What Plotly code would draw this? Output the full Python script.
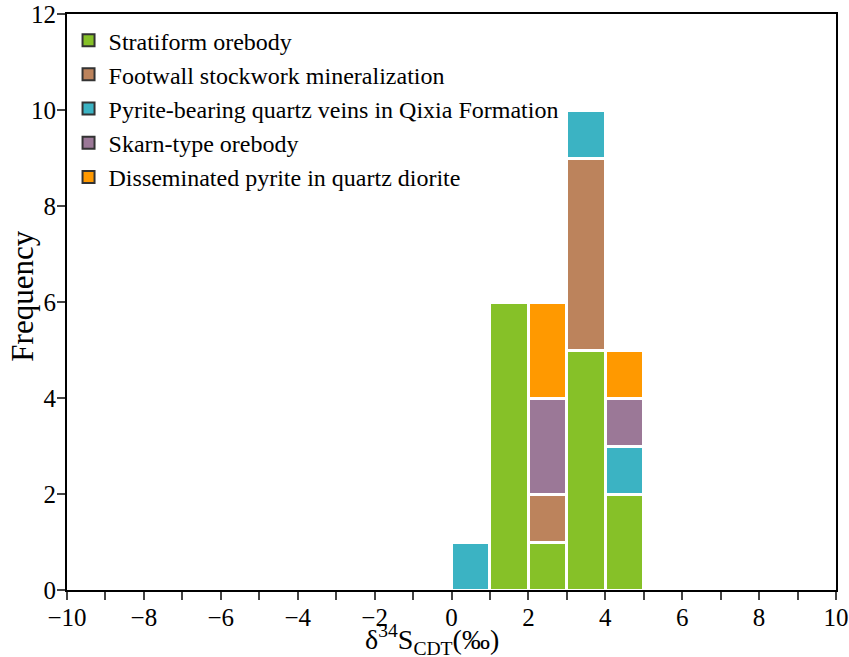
import plotly.graph_objects as go

bins = [0.5, 1.5, 2.5, 3.5, 4.5]
series_names = [
    "Stratiform orebody",
    "Footwall stockwork mineralization",
    "Pyrite-bearing quartz veins in Qixia Formation",
    "Skarn-type orebody",
    "Disseminated pyrite in quartz diorite",
]
stratiform = [0, 6, 1, 5, 2]
footwall = [0, 0, 1, 4, 0]
pyrite_veins = [1, 0, 0, 1, 1]
skarn = [0, 0, 2, 0, 1]
disseminated = [0, 0, 2, 0, 1]
colors = ["#86C128", "#BC835C", "#3BB3C3", "#9B7897", "#FF9900"]

values = [stratiform, footwall, pyrite_veins, skarn, disseminated]
font = "Liberation Serif"

fig = go.Figure()
for name, vals, c in zip(series_names, values, colors):
    fig.add_trace(go.Bar(
        x=bins, y=vals, width=1, name=name, showlegend=False,
        marker=dict(color=c, line=dict(color="white", width=3)),
    ))
for i, (name, c) in enumerate(zip(series_names, colors)):
    fig.add_trace(go.Scatter(
        x=[None], y=[None], mode="markers", name=name, legendgroup=str(i),
        marker=dict(symbol="square", size=17, color=c, line=dict(color="#333333", width=1.5)),
    ))

fig.update_layout(
    barmode="stack",
    width=849, height=657,
    margin=dict(l=67, r=13, t=14, b=67, autoexpand=False),
    plot_bgcolor="white", paper_bgcolor="white",
    font=dict(family=font, size=24, color="black"),
    legend=dict(x=0.002, y=0.993, xanchor="left", yanchor="top",
                font=dict(family=font, size=24), tracegroupgap=0,
                bgcolor="rgba(0,0,0,0)", itemsizing="constant"),
    xaxis=dict(range=[-10, 10], dtick=2, tick0=-10, ticks="outside", ticklen=8, tickwidth=2,
               showline=True, linewidth=2, linecolor="black", mirror=True,
               showgrid=False, zeroline=False, automargin=False, ticklabelstandoff=-4,
               minor=dict(dtick=1, ticks="outside", ticklen=8, tickwidth=2, showgrid=False),
               tickfont=dict(size=25)),
    yaxis=dict(range=[0, 12], dtick=2, ticks="outside", ticklen=8, tickwidth=2,
               showline=True, linewidth=2, linecolor="black", mirror=True,
               showgrid=False, zeroline=False, automargin=False, ticklabelstandoff=-4,
               tickfont=dict(size=25)),
    annotations=[
        dict(text="δ<sup>34</sup>S<sub>CDT</sub>(‰)", xref="paper", yref="paper",
             x=0.474, y=-0.1225, xanchor="center", yanchor="bottom", showarrow=False,
             font=dict(size=28)),
        dict(text="Frequency", xref="paper", yref="paper", textangle=-90,
             x=-0.058, y=0.51, xanchor="center", yanchor="middle", showarrow=False,
             font=dict(size=31)),
    ],
)
fig.write_html("out.html", config={"displayModeBar": False},
               post_script="document.body.style.margin='0';document.body.style.overflow='hidden';")
